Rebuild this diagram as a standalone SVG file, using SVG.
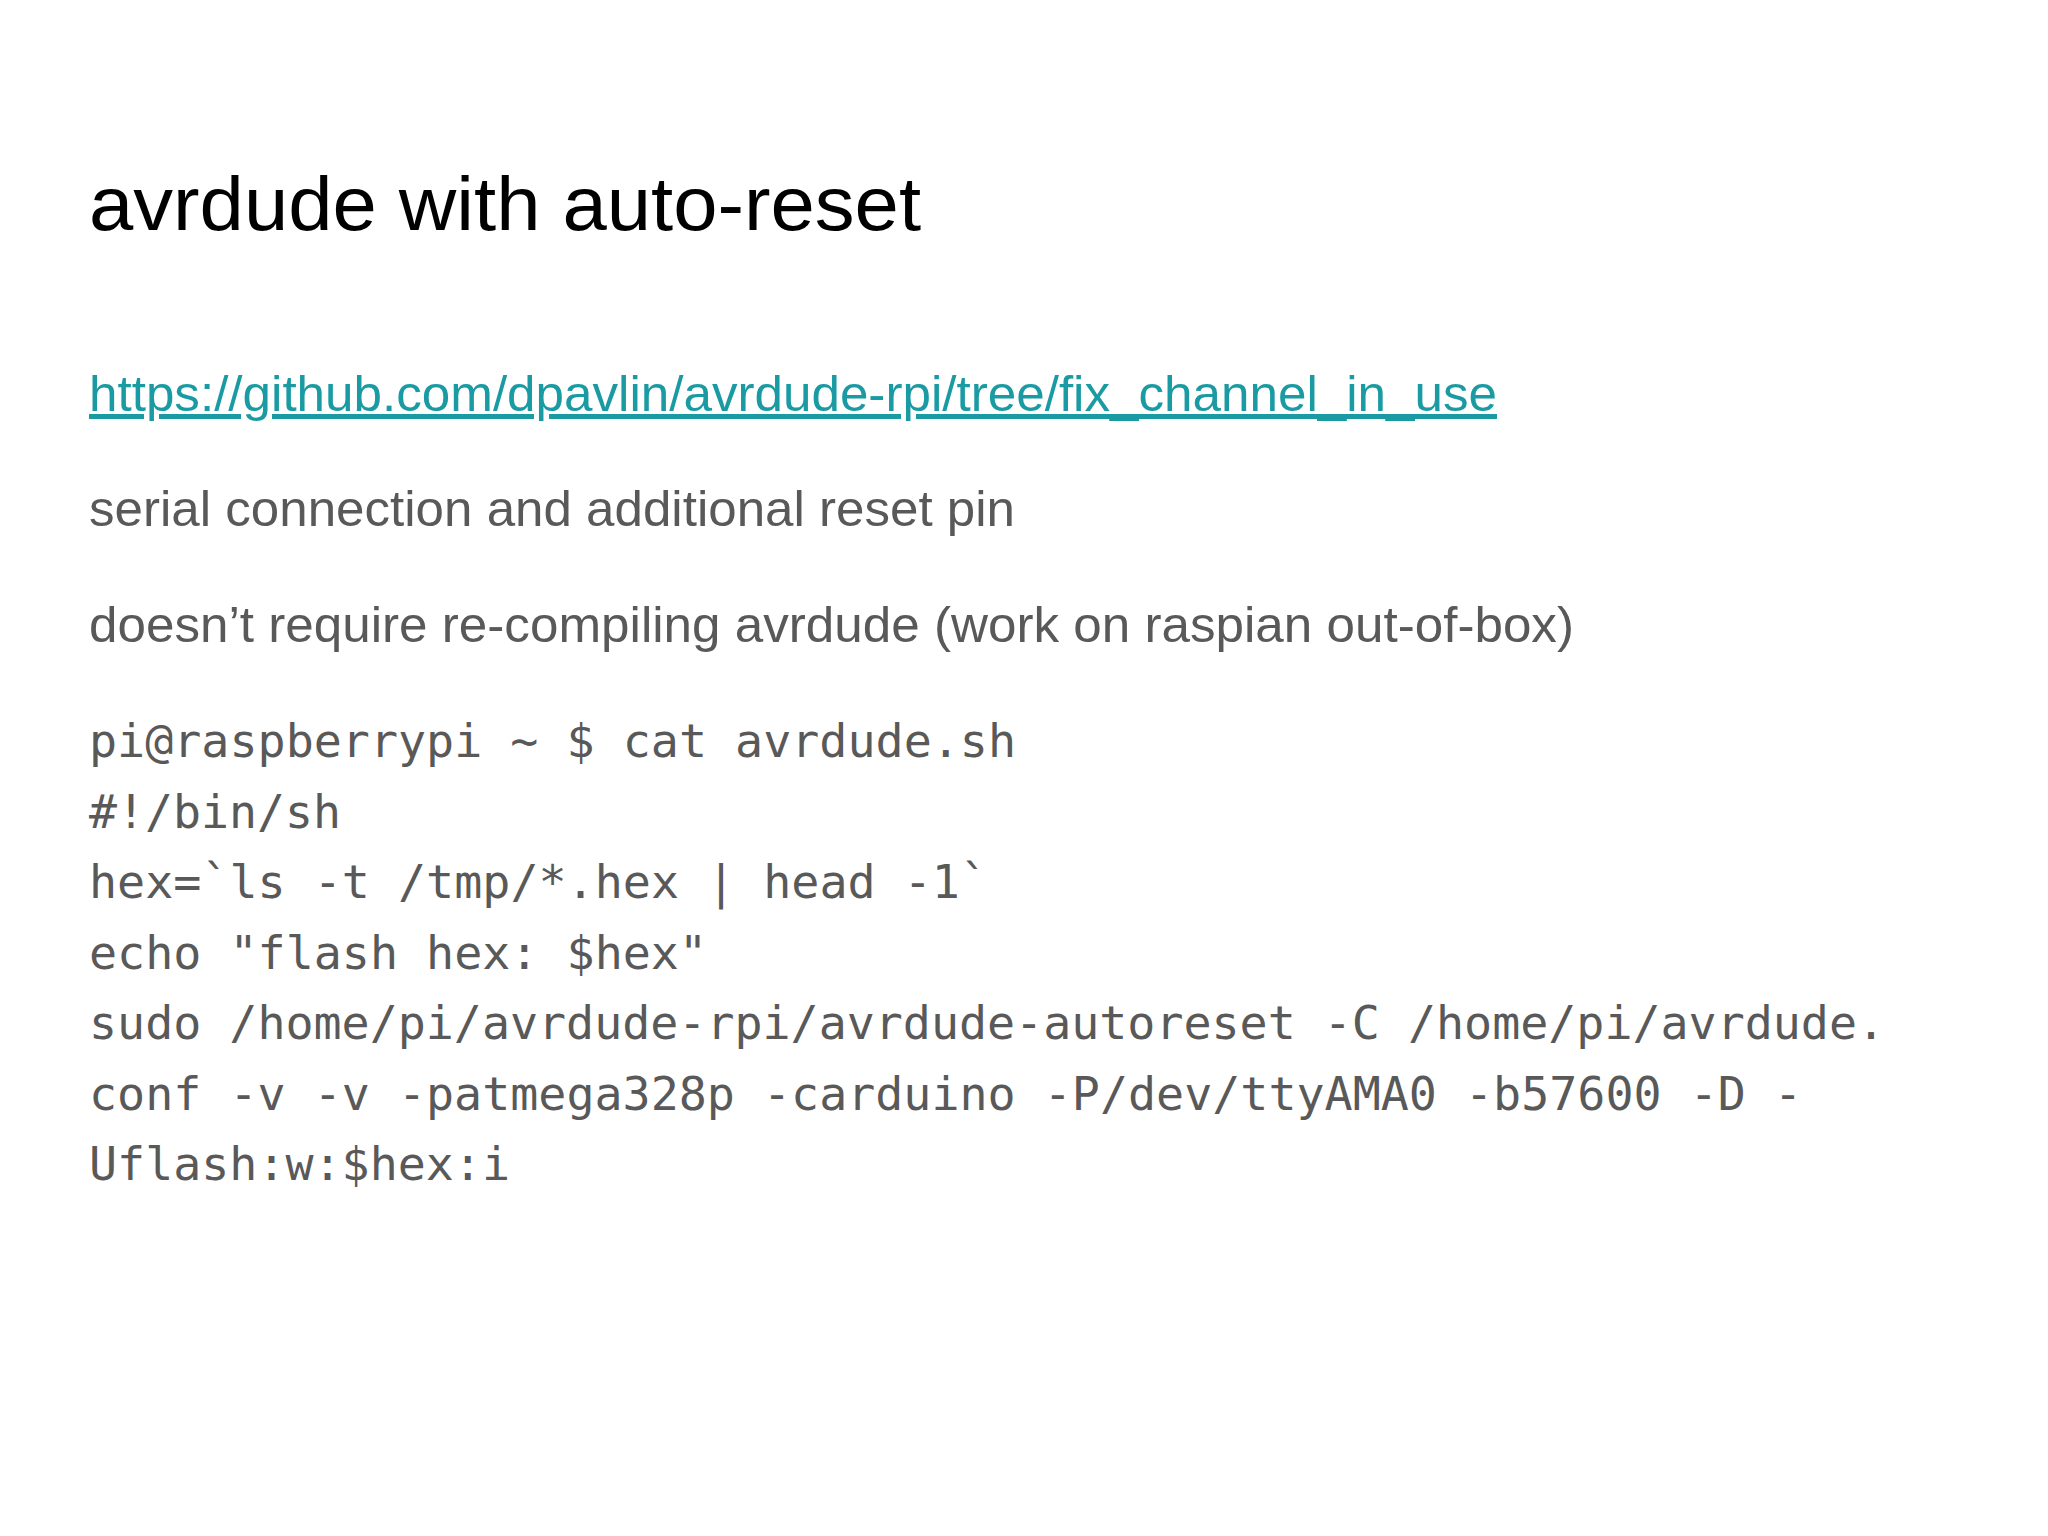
<svg xmlns="http://www.w3.org/2000/svg" width="2048" height="1536" viewBox="0 0 2048 1536">
<style>
.t{font-family:"Liberation Sans",Arial,sans-serif;}
.b{font-family:"Liberation Sans",Arial,sans-serif;font-size:50px;fill:#595959;}
.m{font-family:"DejaVu Sans Mono","Liberation Mono",monospace;font-size:46px;fill:#595959;}
</style>
<rect width="2048" height="1536" fill="#ffffff"/>
<text class="t" x="89" y="230" font-size="76" fill="#000" textLength="832" lengthAdjust="spacingAndGlyphs">avrdude with auto-reset</text>
<text class="b" x="89" y="411" fill="#1a9ba3" text-decoration="underline" textLength="1408" lengthAdjust="spacingAndGlyphs" style="fill:#1a9ba3">https://github.com/dpavlin/avrdude-rpi/tree/fix_channel_in_use</text>
<text class="b" x="89" y="526" textLength="926" lengthAdjust="spacingAndGlyphs">serial connection and additional reset pin</text>
<text class="b" x="89" y="642" textLength="1485" lengthAdjust="spacingAndGlyphs">doesn’t require re-compiling avrdude (work on raspian out-of-box)</text>
<g class="m">
<text x="89" y="757" textLength="927" lengthAdjust="spacingAndGlyphs">pi@raspberrypi ~ $ cat avrdude.sh</text>
<text x="89" y="828" textLength="252" lengthAdjust="spacingAndGlyphs">#!/bin/sh</text>
<text x="89" y="898" textLength="899" lengthAdjust="spacingAndGlyphs">hex=`ls -t /tmp/*.hex | head -1`</text>
<text x="89" y="969" textLength="618" lengthAdjust="spacingAndGlyphs">echo "flash hex: $hex"</text>
<text x="89" y="1039" textLength="1796" lengthAdjust="spacingAndGlyphs">sudo /home/pi/avrdude-rpi/avrdude-autoreset -C /home/pi/avrdude.</text>
<text x="89" y="1110" textLength="1713" lengthAdjust="spacingAndGlyphs">conf -v -v -patmega328p -carduino -P/dev/ttyAMA0 -b57600 -D -</text>
<text x="89" y="1180" textLength="421" lengthAdjust="spacingAndGlyphs">Uflash:w:$hex:i</text>
</g>
</svg>
